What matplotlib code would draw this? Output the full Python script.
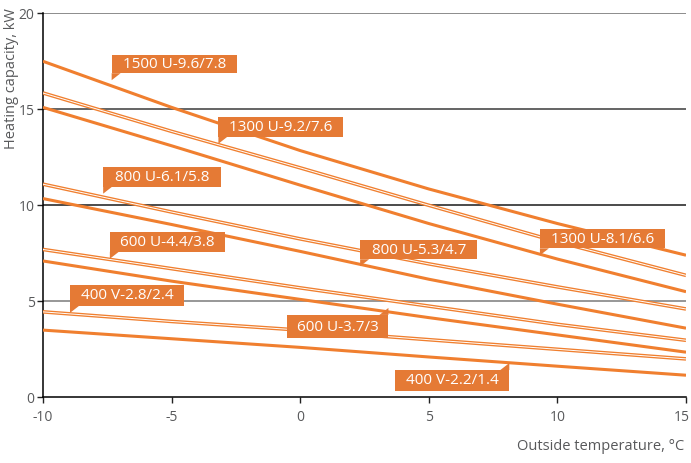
import matplotlib
matplotlib.use("Agg")
import matplotlib.pyplot as plt
import matplotlib.transforms as mtransforms
from matplotlib.patches import Rectangle, Polygon

plt.rcParams['font.family'] = ['Open Sans', 'DejaVu Sans']
plt.rcParams['axes.unicode_minus'] = False

# outside temperature, degC
temps = [-10, -5, 0, 5, 10, 15]

# heating capacity, kW
cap_1500 = [17.5, 15.1, 12.85, 10.85, 9.05, 7.4]
cap_1300_hi = [15.85, 13.85, 11.95, 10.0, 8.1, 6.35]
cap_1300_lo = [15.1, 13.1, 11.05, 9.05, 7.2, 5.5]
cap_800_hi = [11.1, 9.65, 8.25, 6.95, 5.75, 4.6]
cap_800_lo = [10.35, 9.0, 7.6, 6.15, 4.85, 3.6]
cap_600_hi = [7.7, 6.7, 5.7, 4.75, 3.8, 2.97]
cap_600_lo = [7.1, 6.05, 5.1, 4.15, 3.25, 2.35]
cap_400_hi = [4.45, 3.95, 3.5, 3.0, 2.5, 2.0]
cap_400_lo = [3.5, 3.05, 2.6, 2.1, 1.62, 1.15]

solid_series = [cap_1500, cap_1300_lo, cap_800_lo, cap_600_lo, cap_400_lo]
double_series = [cap_1300_hi, cap_800_hi, cap_600_hi, cap_400_hi]

labels = ["1500 U-9.6/7.8", "1300 U-9.2/7.6", "1300 U-8.1/6.6",
          "800 U-6.1/5.8", "800 U-5.3/4.7", "600 U-4.4/3.8",
          "400 V-2.8/2.4", "600 U-3.7/3", "400 V-2.2/1.4"]
# box: left, right, bottom, top (data units), pointer corner
label_boxes = [(-7.33, -2.47, 16.88, 17.83, 'bl'),
               (-3.18, 1.68, 13.57, 14.61, 'bl'),
               (9.32, 14.18, 7.76, 8.75, 'bl'),
               (-7.66, -3.06, 10.97, 12.01, 'bl'),
               (2.33, 6.89, 7.19, 8.19, 'bl'),
               (-7.40, -2.92, 7.58, 8.63, 'bl'),
               (-8.95, -4.52, 4.76, 5.85, 'bl'),
               (-0.50, 3.43, 3.07, 4.29, 'tr'),
               (3.69, 8.13, 0.34, 1.42, 'tr')]

line_col = '#f07f2f'
box_col = '#e57a35'
txt_col = '#58595b'

fig = plt.figure(figsize=(6.91, 4.63), dpi=100)
ax = fig.add_axes([0.0622, 0.1419, 0.9306, 0.8294])

grid_cols = {5: '#7a7a7a', 10: '#1a1a1a', 15: '#3a3a3a', 20: '#6e6e6e'}
for gy, gc in grid_cols.items():
    ax.axhline(gy, color=gc, lw=1.1, zorder=1)

for s in double_series:
    ax.plot(temps, s, color=line_col, lw=2.6, zorder=3, solid_capstyle='butt')
    ax.plot(temps, s, color='white', lw=0.7, zorder=3.1, solid_capstyle='butt')
for s in solid_series:
    ax.plot(temps, s, color=line_col, lw=2.2, zorder=3, solid_capstyle='butt')

px_x = 25.72
px_y = 19.2
for lab, (xl, xr, yb, yt, corner) in zip(labels, label_boxes):
    ax.add_patch(Rectangle((xl, yb), xr - xl, yt - yb, facecolor=box_col,
                           edgecolor='none', zorder=5))
    if corner == 'bl':
        tri = [(xl, yb), (xl + 9 / px_x, yb), (xl, yb - 7 / px_y)]
    else:
        tri = [(xr, yt), (xr - 9 / px_x, yt), (xr, yt + 7 / px_y)]
    ax.add_patch(Polygon(tri, closed=True, facecolor=box_col,
                         edgecolor='none', zorder=5))
    ax.text((xl + xr) / 2, (yb + yt) / 2 - 0.02, lab, color='white',
            fontsize=11, ha='center', va='center', zorder=6)

ax.set_xlim(-10, 15)
ax.set_ylim(0, 20)
ax.set_xticks([-10, -5, 0, 5, 10, 15])
ax.set_yticks([0, 5, 10, 15, 20])
ax.spines['top'].set_visible(False)
ax.spines['right'].set_visible(False)
ax.spines['left'].set_linewidth(1.1)
ax.spines['bottom'].set_linewidth(1.1)
ax.tick_params(direction='out', length=4, width=1, colors='#222222',
               labelcolor=txt_col, labelsize=10)
ax.tick_params(axis='y', pad=2)
ax.tick_params(axis='x', pad=5)

# nudge the last x tick label so it stays inside the picture
last = ax.get_xticklabels()[-1]
last.set_transform(last.get_transform() +
                   mtransforms.ScaledTranslation(-4 / 100, 0, fig.dpi_scale_trans))

fig.text(0.016, 0.983, "Heating capacity, kW", rotation=90, ha='center',
         va='top', color=txt_col, fontsize=10.5)
fig.text(0.99, 0.035, "Outside temperature, °C", ha='right', va='center',
         color=txt_col, fontsize=10.5)

fig.savefig("out.png", dpi=100)
